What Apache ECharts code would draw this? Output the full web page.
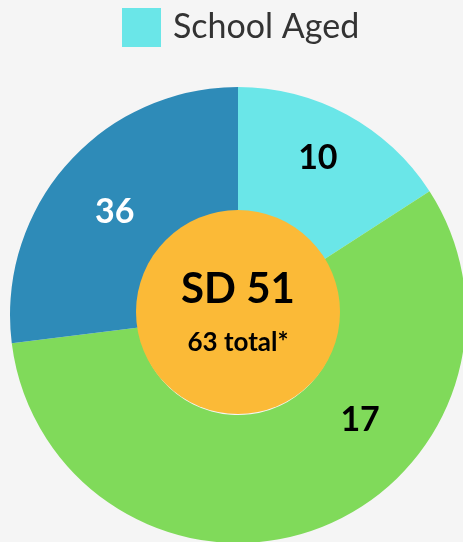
<!DOCTYPE html>
<html>
<head>
    <meta charset="utf-8">
    <title>SD 51</title>
    <script src="https://cdn.jsdelivr.net/npm/echarts@6/dist/echarts.min.js"></script>
    <style>
        html, body { margin: 0; padding: 0; background: #f5f5f5; }
    </style>
</head>
<body>
    <div id="main" style="width: 463px; height: 542px;"></div>

    <script>
        // slice names, values and the numbers printed on them
        var sliceNames = ['School Aged', 'Group B', 'Group C'];
        var sliceValues = [10, 36, 17];
        var sliceLabels = ['10', '17', '36'];
        var sliceColors = ['#6ae6e8', '#80da5a', '#2e8bb8'];
        var labelColors = ['#000', '#000', '#fff'];
        // label nudges, the printed labels are not at the slice middles
        var labelOffsets = [[0, -10], [65, -52], [2, 8]];

        var centerTitle = 'SD 51';
        var centerSub = '63 total*';

        var myChart = echarts.init(document.getElementById('main'));

        var ringData = sliceNames.map(function (name, i) {
            return {
                name: name,
                value: sliceValues[i],
                itemStyle: { color: sliceColors[i] },
                label: {
                    formatter: sliceLabels[i],
                    color: labelColors[i],
                    offset: labelOffsets[i]
                }
            };
        });

        var option = {
            backgroundColor: '#f5f5f5',
            animation: false,
            legend: {
                data: ['School Aged'],
                left: 122,
                top: 8,
                padding: 0,
                icon: 'rect',
                itemWidth: 39,
                itemHeight: 39,
                selectedMode: false,
                textStyle: {
                    fontFamily: 'Lato',
                    fontSize: 34,
                    color: '#333',
                    padding: [0, 0, 0, 7]
                }
            },
            series: [
                {
                    name: 'ring',
                    type: 'pie',
                    center: [238, 315],
                    radius: [100, 228],
                    startAngle: 90,
                    clockwise: true,
                    silent: true,
                    label: {
                        show: true,
                        position: 'inside',
                        fontFamily: 'Lato',
                        fontWeight: 'bold',
                        fontSize: 34
                    },
                    labelLine: { show: false },
                    data: ringData
                },
                {
                    name: 'center',
                    type: 'pie',
                    center: [238, 312],
                    radius: [0, 102],
                    silent: true,
                    label: {
                        show: true,
                        position: 'center',
                        offset: [0, -1],
                        formatter: '{a|' + centerTitle + '}\n{b|' + centerSub + '}',
                        rich: {
                            a: {
                                fontFamily: 'Lato',
                                fontWeight: 'bold',
                                fontSize: 42,
                                color: '#000',
                                lineHeight: 64
                            },
                            b: {
                                fontFamily: 'Lato',
                                fontWeight: 'bold',
                                fontSize: 26,
                                color: '#000',
                                lineHeight: 44
                            }
                        }
                    },
                    labelLine: { show: false },
                    data: [{ name: 'SD 51', value: 63, itemStyle: { color: '#fbba37' } }]
                }
            ]
        };

        myChart.setOption(option);
    </script>
</body>
</html>
